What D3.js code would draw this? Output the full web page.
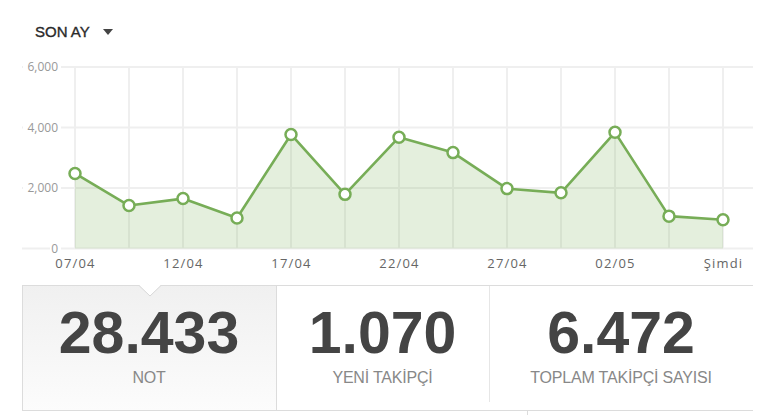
<!DOCTYPE html>
<html>
<head>
<meta charset="utf-8">
<title>son ay</title>
<style>
  body { margin: 0; background: #fff; }
  svg { display: block; }
</style>
</head>
<body>
<div id="container"></div>
<script src="https://cdn.jsdelivr.net/npm/d3@7"></script>
<script>
// data
var dates = ["07/04", "09/04", "12/04", "14/04", "17/04", "19/04", "22/04", "24/04", "27/04", "29/04", "02/05", "04/05", "Şimdi"];
var shownLabels = ["07/04", "12/04", "17/04", "22/04", "27/04", "02/05", "Şimdi"];
var values = [2480, 1420, 1650, 1010, 3770, 1790, 3680, 3170, 1980, 1840, 3840, 1070, 950];
var yTicks = [0, 2000, 4000, 6000];
var statNumbers = ["28.433", "1.070", "6.472"];
var statLabels = ["NOT", "YENİ TAKİPÇİ", "TOPLAM TAKİPÇİ SAYISI"];

var W = 777, H = 415;
var green = "#77ad57";

var svg = d3.select("#container").append("svg")
    .attr("width", W)
    .attr("height", H);

var xScale = d3.scalePoint().domain(dates).range([75, 723]);
var yScale = d3.scaleLinear().domain([0, 6000]).range([248.5, 67]);

// header
svg.append("text")
    .attr("x", 35).attr("y", 37)
    .attr("font-family", "Liberation Sans, Arial, sans-serif")
    .attr("font-size", 15)
    .attr("fill", "#2a2a2a")
    .attr("stroke", "#2a2a2a").attr("stroke-width", 0.35)
    .text("SON AY");
svg.append("path")
    .attr("d", "M103,29 L113,29 L108,35 Z")
    .attr("fill", "#444");

// grid
var grid = svg.append("g");
grid.selectAll(".hgrid").data(yTicks).enter().append("line")
    .attr("class", "hgrid")
    .attr("x1", 22).attr("x2", 753)
    .attr("y1", d => yScale(d)).attr("y2", d => yScale(d))
    .attr("stroke", "#efefef").attr("stroke-width", 2);
grid.selectAll(".vgrid").data(dates).enter().append("line")
    .attr("class", "vgrid")
    .attr("x1", d => xScale(d)).attr("x2", d => xScale(d))
    .attr("y1", yScale(6000)).attr("y2", yScale(0))
    .attr("stroke", "#efefef").attr("stroke-width", 2);

// y axis labels with white backing
var yAxis = d3.axisLeft(yScale).tickValues(yTicks).tickSize(0).tickPadding(0)
    .tickFormat(d3.format(","));
var yg = svg.append("g").attr("transform", "translate(58,0)").call(yAxis);
yg.select(".domain").remove();
yg.selectAll(".tick").insert("rect", "text")
    .attr("x", function(d) { return d === 0 ? -8 : -35; })
    .attr("y", -7).attr("height", 14)
    .attr("width", function(d) { return d === 0 ? 11 : 38; })
    .attr("fill", "#fff");
yg.selectAll(".tick text")
    .attr("font-family", "Open Sans, sans-serif")
    .attr("font-size", 12)
    .attr("fill", "#999");

// area + line
var area = d3.area()
    .x((d, i) => xScale(dates[i]))
    .y0(yScale(0))
    .y1(d => yScale(d));
var line = d3.line()
    .x((d, i) => xScale(dates[i]))
    .y(d => yScale(d));

svg.append("path").datum(values)
    .attr("d", area)
    .attr("fill", green).attr("fill-opacity", 0.2);
svg.append("path").datum(values)
    .attr("d", line)
    .attr("fill", "none")
    .attr("stroke", green).attr("stroke-width", 2.6)
    .attr("stroke-linejoin", "round");
svg.selectAll(".dot").data(values).enter().append("circle")
    .attr("class", "dot")
    .attr("cx", (d, i) => xScale(dates[i]))
    .attr("cy", d => yScale(d))
    .attr("r", 5.5)
    .attr("fill", "#fff")
    .attr("stroke", green).attr("stroke-width", 2.5);

// x axis labels
var xAxis = d3.axisBottom(xScale).tickValues(shownLabels).tickSize(0).tickPadding(0);
var xg = svg.append("g").attr("transform", "translate(0,259)").call(xAxis);
xg.select(".domain").remove();
xg.selectAll(".tick text")
    .attr("font-family", "Open Sans, sans-serif")
    .attr("font-size", 13)
    .attr("letter-spacing", 1.2)
    .attr("fill", "#666");

// stats panel
var defs = svg.append("defs");
var grad = defs.append("linearGradient").attr("id", "cellgrad")
    .attr("x1", 0).attr("x2", 0).attr("y1", 0).attr("y2", 1);
grad.append("stop").attr("offset", "0%").attr("stop-color", "#f0f0f0");
grad.append("stop").attr("offset", "100%").attr("stop-color", "#fcfcfc");

var cellX = [22, 276, 489, 753];

svg.append("rect")
    .attr("x", cellX[0] + 0.5).attr("y", 285.5)
    .attr("width", cellX[1] - cellX[0]).attr("height", 125)
    .attr("fill", "url(#cellgrad)")
    .attr("stroke", "#dcdcdc");
svg.append("line")
    .attr("x1", 22).attr("x2", 753).attr("y1", 285.5).attr("y2", 285.5)
    .attr("stroke", "#dcdcdc");
svg.append("line")
    .attr("x1", 22).attr("x2", 753).attr("y1", 410.5).attr("y2", 410.5)
    .attr("stroke", "#dcdcdc");
svg.append("line")
    .attr("x1", cellX[2] + 0.5).attr("x2", cellX[2] + 0.5).attr("y1", 286).attr("y2", 402)
    .attr("stroke", "#e6e6e6");
svg.append("line")
    .attr("x1", 527.5).attr("x2", 527.5).attr("y1", 411).attr("y2", 415)
    .attr("stroke", "#dcdcdc");

// notch
svg.append("path")
    .attr("d", "M139,285 L150,296 L161,285 Z")
    .attr("fill", "#fff");
svg.append("path")
    .attr("d", "M139,285.5 L150,296 L161,285.5")
    .attr("fill", "none")
    .attr("stroke", "#d8d8d8");

var cells = svg.selectAll(".stat").data(statNumbers).enter().append("g")
    .attr("class", "stat")
    .attr("transform", (d, i) => "translate(" + ((cellX[i] + cellX[i + 1]) / 2) + ",0)");
cells.append("text")
    .attr("y", 353)
    .attr("text-anchor", "middle")
    .attr("font-family", "Liberation Sans, Arial, sans-serif")
    .attr("font-weight", "bold")
    .attr("font-size", 59)
    .attr("fill", "#444")
    .text(d => d);
cells.append("text")
    .attr("y", 383)
    .attr("text-anchor", "middle")
    .attr("font-family", "Liberation Sans, Arial, sans-serif")
    .attr("font-size", 16)
    .attr("letter-spacing", -0.2)
    .attr("fill", "#888")
    .text((d, i) => statLabels[i]);
</script>
</body>
</html>
